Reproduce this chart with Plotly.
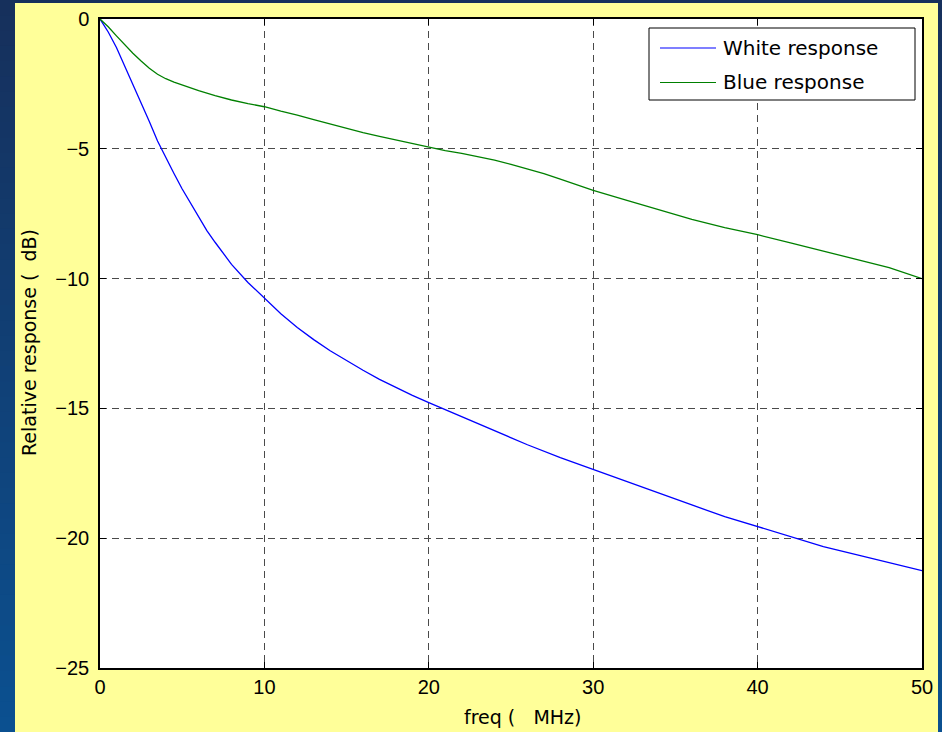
import numpy as np
import plotly.graph_objects as go

# Frequency sweep (MHz) and relative response (dB) for each illumination
freq_white = [0, 0.5, 1, 1.5, 2, 2.5, 3, 3.5, 4, 4.5, 5, 5.5, 6, 6.5, 7, 7.5, 8, 9,
              10, 11, 12, 13, 14, 15, 16, 17, 18, 19, 20, 22, 24, 26, 28, 30, 32,
              34, 36, 38, 40, 42, 44, 46, 48, 50]
white_db = [0, -0.5, -1.1, -1.8, -2.5, -3.2, -3.95, -4.7, -5.35, -5.95, -6.55, -7.1,
            -7.65, -8.15, -8.6, -9.05, -9.45, -10.15, -10.77, -11.35, -11.88, -12.35,
            -12.78, -13.17, -13.53, -13.88, -14.2, -14.5, -14.78, -15.32, -15.85,
            -16.4, -16.9, -17.36, -17.82, -18.28, -18.72, -19.17, -19.56, -19.96,
            -20.32, -20.63, -20.93, -21.25]

freq_blue = [0, 0.5, 1, 1.5, 2, 2.5, 3, 3.5, 4, 4.5, 5, 6, 7, 8, 9, 10, 11, 12, 13,
             14, 15, 16, 17, 18, 19, 20, 21, 22, 23, 24, 25, 26, 27, 28, 29, 30, 32,
             34, 36, 38, 40, 42, 44, 46, 48, 50]
blue_db = [0, -0.3, -0.65, -1.0, -1.32, -1.62, -1.9, -2.13, -2.3, -2.43, -2.54, -2.76,
           -2.95, -3.12, -3.26, -3.38, -3.55, -3.7, -3.88, -4.05, -4.22, -4.38, -4.52,
           -4.66, -4.8, -4.95, -5.07, -5.18, -5.3, -5.44, -5.6, -5.77, -5.96, -6.17,
           -6.39, -6.6, -6.98, -7.35, -7.72, -8.04, -8.31, -8.62, -8.94, -9.26, -9.58,
           -10.0]

series_names = ["White response", "Blue response"]
series_colors = ["#0000ff", "#008000"]

x_ticks = [0, 10, 20, 30, 40, 50]
y_ticks = [0, -5, -10, -15, -20, -25]

x_title = "freq (   MHz)"
y_title = "Relative response (  dB)"

# Canvas geometry (pixels)
W, H = 942, 732
L, R, T, B = 100, 20, 19, 64
PW, PH = W - L - R, H - T - B


def px_x(px):
    return (px - L) / PW


def px_y(py):
    return (H - B - py) / PH


fig = go.Figure()
fig.add_trace(go.Scatter(x=freq_white, y=white_db, mode="lines", name=series_names[0],
                         line=dict(color=series_colors[0], width=1.3), showlegend=False))
fig.add_trace(go.Scatter(x=freq_blue, y=blue_db, mode="lines", name=series_names[1],
                         line=dict(color=series_colors[1], width=1.3), showlegend=False))

shapes = []
# Blue gradient frame around the yellow panel
n_bands = 48
top_rgb = np.array([22, 48, 92])
bot_rgb = np.array([11, 80, 144])
for i in range(n_bands):
    t = i / (n_bands - 1)
    c = (top_rgb * (1 - t) + bot_rgb * t).round().astype(int)
    col = f"rgb({c[0]},{c[1]},{c[2]})"
    y0 = H * i / n_bands
    y1 = min(H * (i + 1) / n_bands + 3, H)
    for (xa, xb) in [(0, 15), (938, W)]:
        shapes.append(dict(type="rect", xref="paper", yref="paper",
                           x0=px_x(xa), x1=px_x(xb), y0=px_y(y1), y1=px_y(y0),
                           fillcolor=col, line=dict(width=0), layer="below"))
shapes.append(dict(type="rect", xref="paper", yref="paper",
                   x0=px_x(0), x1=px_x(W), y0=px_y(3), y1=px_y(0),
                   fillcolor="rgb(22,48,92)", line=dict(width=0), layer="below"))

# Legend box with line samples
shapes.append(dict(type="rect", xref="paper", yref="paper",
                   x0=px_x(649), x1=px_x(915), y0=px_y(100), y1=px_y(28),
                   fillcolor="white", line=dict(color="black", width=1), layer="above"))
annotations = []
for k, (name, col) in enumerate(zip(series_names, series_colors)):
    yc = 48 + k * 34.5
    shapes.append(dict(type="line", xref="paper", yref="paper",
                       x0=px_x(660), x1=px_x(716), y0=px_y(yc), y1=px_y(yc),
                       line=dict(color=col, width=1.2), layer="above"))
    annotations.append(dict(text=name, xref="paper", yref="paper", x=px_x(721),
                            y=px_y(yc), xanchor="left", yanchor="middle",
                            showarrow=False,
                            font=dict(family="DejaVu Sans", size=20, color="black")))

annotations.append(dict(text=x_title, xref="paper", yref="paper", x=px_x(522),
                        y=px_y(717), xanchor="center", yanchor="middle", showarrow=False,
                        font=dict(family="DejaVu Sans", size=19, color="black")))
annotations.append(dict(text=y_title, xref="paper", yref="paper", x=px_x(29),
                        y=px_y(343), xanchor="center", yanchor="middle", showarrow=False,
                        textangle=-90,
                        font=dict(family="DejaVu Sans", size=19, color="black")))

axis_common = dict(
    showline=True, linecolor="black", linewidth=1.5, mirror="ticks",
    ticks="inside", ticklen=6, tickwidth=1, tickcolor="black",
    showgrid=True, gridcolor="#4a4a4a", gridwidth=1, griddash="7px,5px",
    zeroline=False,
    tickfont=dict(family="Liberation Sans", size=20, color="black"),
)

fig.update_xaxes(range=[0, 50], tickvals=x_ticks, **axis_common)
fig.update_yaxes(range=[-25, 0], tickvals=y_ticks, ticklabelstandoff=5, **axis_common)

fig.update_layout(
    width=W, height=H,
    margin=dict(l=L, r=R, t=T, b=B, autoexpand=False),
    paper_bgcolor="#ffff99",
    plot_bgcolor="white",
    shapes=shapes,
    annotations=annotations,
    showlegend=False,
)

fig.write_html("out.html")
